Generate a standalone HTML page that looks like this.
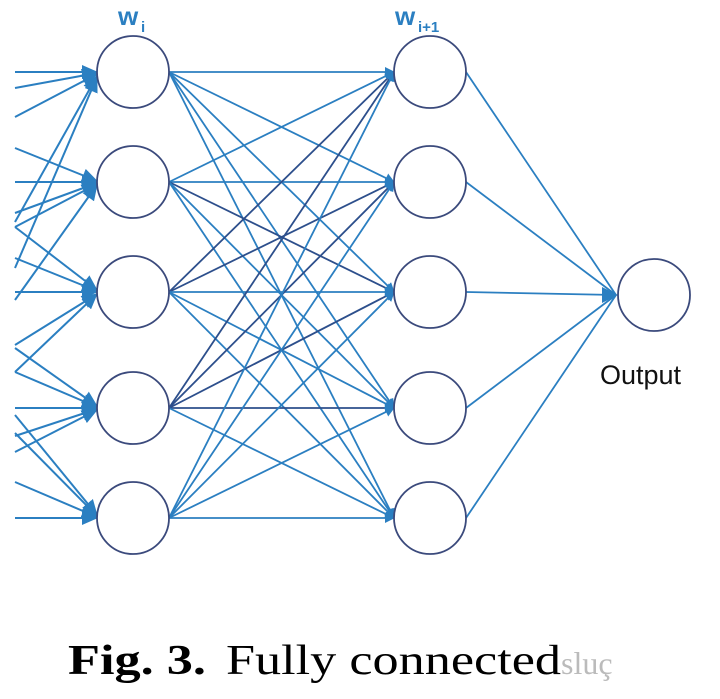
<!DOCTYPE html>
<html><head><meta charset="utf-8"><style>
html,body{margin:0;padding:0;background:#fff;width:720px;height:699px;overflow:hidden}
</style></head><body>
<svg width="720" height="699" viewBox="0 0 720 699" xmlns="http://www.w3.org/2000/svg">
<defs>
<marker id="a" markerWidth="10" markerHeight="10" refX="9" refY="5" orient="auto" markerUnits="userSpaceOnUse" viewBox="0 0 10 10">
<path d="M0,0 L10,5 L0,10 z" fill="#2b7fc1"/></marker>
<marker id="b" markerWidth="16" markerHeight="14" refX="15" refY="7" orient="auto" markerUnits="userSpaceOnUse" viewBox="0 0 16 14">
<path d="M0,0 L16,7 L0,14 z" fill="#2b7fc1"/></marker>
</defs>
<g stroke="#2b7fc1" stroke-width="2" fill="none" marker-end="url(#b)">
<line x1="15" y1="72" x2="97" y2="72"/>
<line x1="15" y1="88" x2="97" y2="73"/>
<line x1="15" y1="117" x2="97" y2="74"/>
<line x1="15" y1="222" x2="97" y2="76"/>
<line x1="15" y1="268" x2="97" y2="77"/>
<line x1="15" y1="148" x2="97" y2="181"/>
<line x1="15" y1="182" x2="97" y2="182"/>
<line x1="15" y1="213" x2="97" y2="183"/>
<line x1="15" y1="227" x2="97" y2="184"/>
<line x1="15" y1="300" x2="97" y2="185"/>
<line x1="15" y1="227" x2="97" y2="290"/>
<line x1="15" y1="258" x2="97" y2="291"/>
<line x1="15" y1="292" x2="97" y2="292"/>
<line x1="15" y1="345" x2="97" y2="294"/>
<line x1="15" y1="372" x2="97" y2="294"/>
<line x1="15" y1="348" x2="97" y2="406"/>
<line x1="15" y1="372" x2="97" y2="407"/>
<line x1="15" y1="408" x2="97" y2="408"/>
<line x1="15" y1="436" x2="97" y2="409"/>
<line x1="15" y1="452" x2="97" y2="410"/>
<line x1="15" y1="415" x2="97" y2="515"/>
<line x1="15" y1="433" x2="97" y2="516"/>
<line x1="15" y1="482" x2="97" y2="517"/>
<line x1="15" y1="518" x2="97" y2="518"/>
</g>
<g stroke="#2b7fc1" stroke-width="1.8" fill="none" marker-end="url(#a)">
<line x1="169" y1="72" x2="394" y2="72"/>
<line x1="169" y1="72" x2="394" y2="182"/>
<line x1="169" y1="72" x2="394" y2="292"/>
<line x1="169" y1="72" x2="394" y2="408"/>
<line x1="169" y1="72" x2="394" y2="518"/>
<line x1="169" y1="182" x2="394" y2="72"/>
<line x1="169" y1="182" x2="394" y2="182"/>
<line x1="169" y1="182" x2="394" y2="292" stroke="#2d4f8c"/>
<line x1="169" y1="182" x2="394" y2="408"/>
<line x1="169" y1="182" x2="394" y2="518"/>
<line x1="169" y1="292" x2="394" y2="72" stroke="#2d4f8c"/>
<line x1="169" y1="292" x2="394" y2="182" stroke="#2d4f8c"/>
<line x1="169" y1="292" x2="394" y2="292"/>
<line x1="169" y1="292" x2="394" y2="408"/>
<line x1="169" y1="292" x2="394" y2="518"/>
<line x1="169" y1="408" x2="394" y2="72" stroke="#2d4f8c"/>
<line x1="169" y1="408" x2="394" y2="182" stroke="#2d4f8c"/>
<line x1="169" y1="408" x2="394" y2="292" stroke="#2d4f8c"/>
<line x1="169" y1="408" x2="394" y2="408" stroke="#2d4f8c"/>
<line x1="169" y1="408" x2="394" y2="518"/>
<line x1="169" y1="518" x2="394" y2="72"/>
<line x1="169" y1="518" x2="394" y2="182"/>
<line x1="169" y1="518" x2="394" y2="292"/>
<line x1="169" y1="518" x2="394" y2="408"/>
<line x1="169" y1="518" x2="394" y2="518"/>
</g>
<g stroke="#2b7fc1" stroke-width="1.8" fill="none">
<line x1="466" y1="72" x2="616" y2="295"/>
<line x1="466" y1="182" x2="616" y2="295"/>
<line x1="466" y1="292" x2="616" y2="295"/>
<line x1="466" y1="408" x2="616" y2="295"/>
<line x1="466" y1="518" x2="616" y2="295"/>
</g>
<path d="M602,287 L618,295 L602,303 z" fill="#2b7fc1"/>
<g stroke="#3b4a7c" stroke-width="1.8" fill="#fff">
<circle cx="133" cy="72" r="36"/><circle cx="133" cy="182" r="36"/><circle cx="133" cy="292" r="36"/><circle cx="133" cy="408" r="36"/><circle cx="133" cy="518" r="36"/>
<circle cx="430" cy="72" r="36"/><circle cx="430" cy="182" r="36"/><circle cx="430" cy="292" r="36"/><circle cx="430" cy="408" r="36"/><circle cx="430" cy="518" r="36"/>
<circle cx="654" cy="295" r="36"/>
</g>
<g font-family="Liberation Sans, sans-serif" fill="#2b7fc1" font-weight="bold">
<text x="118" y="25" font-size="26">w</text><text x="141" y="32" font-size="15">i</text>
<text x="395" y="25" font-size="26">w</text><text x="418" y="32" font-size="15">i+1</text>
</g>
<text x="600" y="384" font-family="Liberation Sans, sans-serif" font-size="27" fill="#111">Output</text>
<text x="68" y="674" font-family="Liberation Serif, serif" font-size="42" fill="#000"><tspan font-weight="bold" textLength="138" lengthAdjust="spacingAndGlyphs">Fig. 3.</tspan><tspan x="226" textLength="335" lengthAdjust="spacingAndGlyphs">Fully connected</tspan><tspan fill="#bbb" font-size="32">sluç</tspan></text>
</svg>
</body></html>
